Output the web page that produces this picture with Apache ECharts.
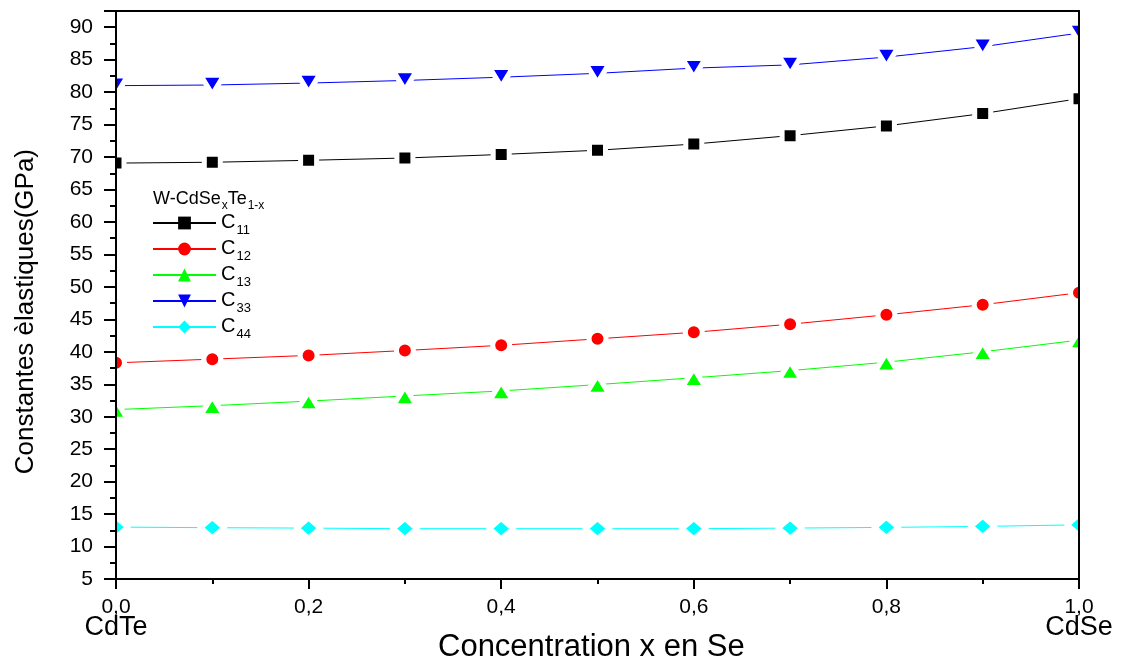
<!DOCTYPE html>
<html>
<head>
<meta charset="utf-8">
<script src="https://cdn.jsdelivr.net/npm/echarts@6/dist/echarts.min.js"></script>
<style>html,body{margin:0;padding:0;background:#fff;}#chart{width:1137px;height:664px;}</style>
</head>
<body>
<div id="chart"></div>
<script>
const xValues = [0, 0.1, 0.2, 0.3, 0.4, 0.5, 0.6, 0.7, 0.8, 0.9, 1.0];
const seriesNames = ['C11', 'C12', 'C13', 'C33', 'C44'];
const c11 = [69.07, 69.2, 69.5, 69.85, 70.4, 71.05, 72.0, 73.3, 74.8, 76.7, 79.0];
const c12 = [38.3, 38.87, 39.44, 40.2, 41.0, 42.0, 43.0, 44.25, 45.7, 47.25, 49.1];
const c13 = [31.1, 31.7, 32.4, 33.2, 33.97, 34.95, 36.0, 37.1, 38.4, 40.0, 41.8];
const c33 = [81.0, 81.1, 81.4, 81.8, 82.3, 82.9, 83.7, 84.2, 85.4, 87.0, 89.1];
const c44 = [13.0, 12.9, 12.84, 12.75, 12.75, 12.75, 12.75, 12.84, 12.95, 13.1, 13.35];
const xEndLabels = {0: 'CdTe', 1: 'CdSe'};

const FONT = '"Liberation Sans", Arial, sans-serif';
const chart = echarts.init(document.getElementById('chart'), null, {renderer: 'canvas'});

function pairs(vals) { return xValues.map((x, i) => [x, vals[i]]); }

const BW = 5;
function mkSeries(name, vals, color, symbol, size) {
  return {
    name: name,
    type: 'line',
    data: pairs(vals),
    symbol: symbol,
    symbolSize: [size[0] + BW, size[1] + BW],
    showAllSymbol: true,
    clip: false,
    lineStyle: {color: color, width: 1},
    itemStyle: {color: color, borderColor: '#fff', borderWidth: BW},
    emphasis: {disabled: true},
    z: 2
  };
}

const option = {
  animation: false,
  backgroundColor: '#fff',
  grid: {left: 116, right: 58, top: 11, bottom: 85, containLabel: false},
  title: {
    left: 153, top: 190, padding: 0,
    text: '{a|W-CdSe}{b|x}{a|Te}{b|1-x}',
    textStyle: {
      fontWeight: 'normal',
      rich: {
        a: {fontFamily: FONT, fontSize: 18, fontWeight: 'normal', color: '#000', lineHeight: 20, verticalAlign: 'top'},
        b: {fontFamily: FONT, fontSize: 12, fontWeight: 'normal', color: '#000', lineHeight: 13, padding: [10, 0, 0, 1], verticalAlign: 'top'}
      }
    }
  },
  legend: {
    orient: 'vertical',
    left: 152, top: 212, padding: 0,
    itemWidth: 63, itemHeight: 16, itemGap: 1,
    data: seriesNames,
    itemStyle: {borderWidth: 0},
    formatter: function (n) { return '{c|C}{s|' + n.slice(1) + '}'; },
    textStyle: {
      rich: {
        c: {fontFamily: FONT, fontSize: 20, color: '#000', lineHeight: 22, verticalAlign: 'top'},
        s: {fontFamily: FONT, fontSize: 13, color: '#000', lineHeight: 13, padding: [12, 0, 0, 1], verticalAlign: 'top'}
      }
    }
  },
  xAxis: [{
    type: 'value', min: 0, max: 1, interval: 0.2, position: 'bottom', zlevel: 2, z: 10,
    axisLine: {show: true, onZero: false, lineStyle: {color: '#000', width: 2}},
    axisTick: {show: true, inside: false, length: 10, lineStyle: {color: '#000', width: 2}},
    minorTick: {show: true, splitNumber: 2, length: 5, lineStyle: {color: '#000', width: 2}},
    splitLine: {show: false},
    axisLabel: {
      margin: 19,
      verticalAlign: 'top',
      formatter: function (v) {
        const s = v.toFixed(1).replace('.', ',');
        const r = Math.round(v * 10) / 10;
        if (xEndLabels[r] !== undefined) return '{a|' + s + '}\n{b|' + xEndLabels[r] + '}';
        return '{a|' + s + '}';
      },
      rich: {
        a: {fontFamily: FONT, fontSize: 21, color: '#000', lineHeight: 18},
        b: {fontFamily: FONT, fontSize: 27, color: '#000', lineHeight: 24}
      }
    }
  }, {
    type: 'value', min: 0, max: 1, position: 'top', zlevel: 2, z: 10,
    axisLine: {show: true, onZero: false, lineStyle: {color: '#000', width: 2}},
    axisTick: {show: false}, axisLabel: {show: false}, splitLine: {show: false}
  }],
  yAxis: [{
    type: 'value', min: 5, max: 92.5, interval: 5, position: 'left', zlevel: 2, z: 10,
    axisLine: {show: true, onZero: false, lineStyle: {color: '#000', width: 2}},
    axisTick: {show: true, inside: false, length: 12, lineStyle: {color: '#000', width: 2}},
    minorTick: {show: true, splitNumber: 2, length: 6, lineStyle: {color: '#000', width: 2}},
    splitLine: {show: false},
    axisLabel: {margin: 23, showMaxLabel: false, fontFamily: FONT, fontSize: 21, color: '#000'}
  }, {
    type: 'value', min: 5, max: 92.5, interval: 5, position: 'right', zlevel: 2, z: 10,
    axisLine: {show: true, onZero: false, lineStyle: {color: '#000', width: 2}},
    axisTick: {show: false}, axisLabel: {show: false}, splitLine: {show: false}
  }],
  graphic: [
    {type: 'rect', zlevel: 1, z: 5, silent: true, shape: {x: 0, y: 0, width: 115, height: 664}, style: {fill: '#ffffff'}},
    {type: 'rect', zlevel: 1, z: 5, silent: true, shape: {x: 1080, y: 0, width: 57, height: 664}, style: {fill: '#ffffff'}},
    {type: 'text', zlevel: 2, z: 20, left: 13, top: 149, rotation: Math.PI / 2,
      style: {text: 'Constantes èlastiques(GPa)', font: '26px ' + FONT, fill: '#000'}},
    {type: 'text', zlevel: 2, z: 20, left: 438, top: 632,
      style: {text: 'Concentration x en Se', font: '31px ' + FONT, fill: '#000'}}
  ],
  series: [
    mkSeries('C11', c11, '#000000', 'rect', [11, 11]),
    mkSeries('C12', c12, '#ff0000', 'circle', [12, 12]),
    mkSeries('C13', c13, '#00ff00', 'triangle', [18, 14]),
    mkSeries('C33', c33, '#0000ff', 'path://M0,0 L2,0 L1,1.4 Z', [18, 14]),
    mkSeries('C44', c44, '#00ffff', 'diamond', [18, 15])
  ]
};
chart.setOption(option);
</script>
</body>
</html>
